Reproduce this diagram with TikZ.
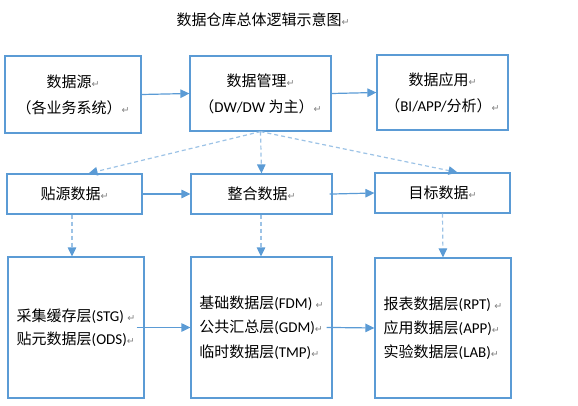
\documentclass[tikz,border=0pt]{standalone}
\usepackage{fontspec}
\setmainfont{Carlito}
\newfontfamily\cjk{Noto Sans CJK SC}
\newfontfamily\symf{DejaVu Sans}
\usetikzlibrary{arrows.meta,calc}
\definecolor{bl}{HTML}{5B9BD5}
\definecolor{lbl}{HTML}{9DC3E6}
\newcommand{\zh}[1]{{\cjk #1}}
\newcommand{\rt}{{\symf\color{gray}\fontsize{9.5}{9.5}\selectfont ↵}}
\tikzset{
  box/.style={draw=bl, line width=1.2pt, inner sep=0pt, font=\fontsize{15}{26}\selectfont},
  solidarr/.style={draw=bl, line width=1.2pt, -{Triangle[length=9pt,width=8.5pt]}},
  dasharr/.style={draw=lbl, line width=1.2pt, dash pattern=on 4pt off 3pt, -{Triangle[length=9pt,width=8.5pt,color=bl]}}
}
\begin{document}
\begin{tikzpicture}[x=1pt,y=-1pt]
\useasboundingbox (0,0) rectangle (578,406);
\node[font=\fontsize{15}{18}\selectfont] (title) at (263,20) {\zh{数据仓库总体逻辑示意图}\rt};

\node[box, minimum width=136pt, minimum height=77pt, align=center] (src) at (73,94.5) {\zh{数据源}\rt\\\zh{（各业务系统）}\rt};
\node[box, minimum width=141pt, minimum height=75pt, align=center] (mgmt) at (260.5,93.5) {\zh{数据管理}\rt\\\zh{（}DW/DW \zh{为主）}\rt};
\node[box, minimum width=131pt, minimum height=75pt, align=center] (app) at (442.5,92.5) {\zh{数据应用}\rt\\\zh{（}BI/APP/\zh{分析）}\rt};

\node[box, minimum width=135pt, minimum height=40pt] (paste) at (74.5,194) {\zh{贴源数据}\rt};
\node[box, minimum width=141pt, minimum height=40pt] (integ) at (261.5,194) {\zh{整合数据}\rt};
\node[box, minimum width=135pt, minimum height=40pt] (target) at (442.5,193) {\zh{目标数据}\rt};

\node[box, minimum width=136pt, minimum height=141pt, align=left, font=\fontsize{15}{23}\selectfont] (stg) at (76,327.5) {\zh{采集缓存层}(STG) \rt\\\zh{贴元数据层}(ODS)\rt};
\node[box, minimum width=141pt, minimum height=141pt, align=left, font=\fontsize{15}{24.5}\selectfont] (fdm) at (261.5,327.5) {\zh{基础数据层}(FDM) \rt\\\zh{公共汇总层}(GDM)\rt\\\zh{临时数据层}(TMP)\rt};
\node[box, minimum width=136pt, minimum height=140pt, align=left, font=\fontsize{15}{24}\selectfont] (rpt) at (443,328) {\zh{报表数据层}(RPT) \rt\\\zh{应用数据层}(APP)\rt\\\zh{实验数据层}(LAB)\rt};

\draw[solidarr] (src.east) -- (mgmt.west);
\draw[solidarr] (mgmt.east) -- (app.west);
\draw[solidarr] (paste.east) -- (integ.west);
\draw[solidarr, shorten <=-3pt] (integ.east) -- (target.west);
\draw[solidarr, shorten <=-8pt] (stg.east) -- (fdm.west);
\draw[solidarr, shorten <=-6pt] (fdm.east) -- (rpt.west);

\draw[dasharr] (mgmt.south) -- ([xshift=14pt]paste.north);
\draw[dasharr] (mgmt.south) -- (integ.north);
\draw[dasharr] (mgmt.south) -- ([xshift=15pt]target.north);

\draw[dasharr] ([xshift=-2.5pt]paste.south) -- ([xshift=-4pt]stg.north);
\draw[dasharr] ([xshift=-0.5pt]integ.south) -- ([xshift=-0.5pt]fdm.north);
\draw[dasharr] (target.south) -- (rpt.north);
\end{tikzpicture}
\end{document}
